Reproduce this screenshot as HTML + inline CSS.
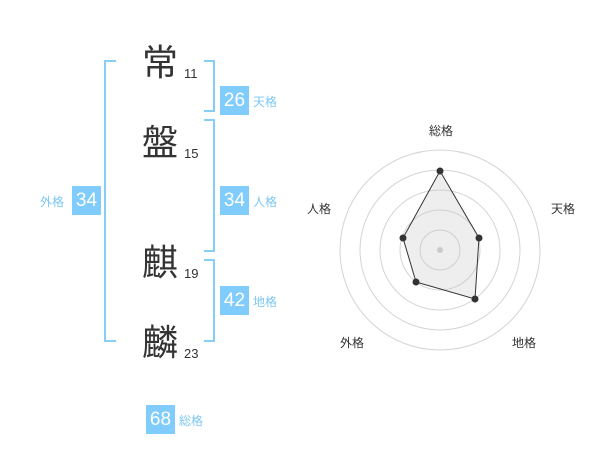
<!DOCTYPE html>
<html><head><meta charset="utf-8"><style>
body{margin:0;background:#fff;width:600px;height:470px;position:relative;overflow:hidden;font-family:"Liberation Sans","Noto Sans CJK JP",sans-serif}
.k{position:absolute;font-size:36px;color:#333;line-height:1;font-family:"Noto Sans CJK JP",sans-serif}
.n{position:absolute;font-size:13px;color:#333}
.b{position:absolute;width:29px;height:29px;background:#80cdfd;color:#fff;font-size:19px;line-height:29px;text-align:center}
.l{position:absolute;font-size:12px;color:#7cc8f2;font-family:"Noto Sans CJK JP",sans-serif}
.br{position:absolute;border:2px solid #86cdf8}
</style></head><body>
<div class="k" style="left:142px;top:42px">常</div><div class="n" style="left:184px;top:66px">11</div>
<div class="k" style="left:142px;top:122px">盤</div><div class="n" style="left:184px;top:146px">15</div>
<div class="k" style="left:142px;top:242px">麒</div><div class="n" style="left:184px;top:266px">19</div>
<div class="k" style="left:142px;top:322px">麟</div><div class="n" style="left:184px;top:346px">23</div>
<div class="br" style="left:104px;top:60px;width:10px;height:278px;border-right:none"></div>
<div class="br" style="left:204px;top:60px;width:9px;height:48px;border-left:none"></div>
<div class="br" style="left:204px;top:119px;width:9px;height:129px;border-left:none"></div>
<div class="br" style="left:204px;top:259px;width:9px;height:79px;border-left:none"></div>
<div class="b" style="left:220px;top:86px">26</div><div class="l" style="left:253px;top:93px">天格</div>
<div class="b" style="left:220px;top:186px">34</div><div class="l" style="left:253px;top:193px">人格</div>
<div class="b" style="left:220px;top:286px">42</div><div class="l" style="left:253px;top:293px">地格</div>
<div class="b" style="left:72px;top:186px">34</div><div class="l" style="left:40px;top:193px">外格</div>
<div class="b" style="left:146px;top:405px">68</div><div class="l" style="left:179px;top:412px">総格</div>
<svg width="600" height="470" style="position:absolute;left:0;top:0" font-family="Noto Sans CJK JP,sans-serif" font-size="12" fill="#333">
<g fill="none" stroke="#d4d4d4"><circle cx="440" cy="250" r="20"/><circle cx="440" cy="250" r="40"/><circle cx="440" cy="250" r="60"/><circle cx="440" cy="250" r="80"/><circle cx="440" cy="250" r="100"/></g>
<circle cx="440" cy="250" r="3" fill="#ccc"/>
<polygon points="440,171 479,238 475,299 416,282 403,238" fill="rgba(200,200,200,0.3)" stroke="#333" stroke-width="1"/>
<g fill="#333"><circle cx="440" cy="171" r="3.5"/><circle cx="479" cy="238" r="3.5"/><circle cx="475" cy="299" r="3.5"/><circle cx="416" cy="282" r="3.5"/><circle cx="403" cy="238" r="3.5"/></g>
<text x="441" y="135" text-anchor="middle">総格</text>
<text x="563" y="213" text-anchor="middle">天格</text>
<text x="524" y="347" text-anchor="middle">地格</text>
<text x="352" y="347" text-anchor="middle">外格</text>
<text x="319" y="213" text-anchor="middle">人格</text>
</svg>
</body></html>
